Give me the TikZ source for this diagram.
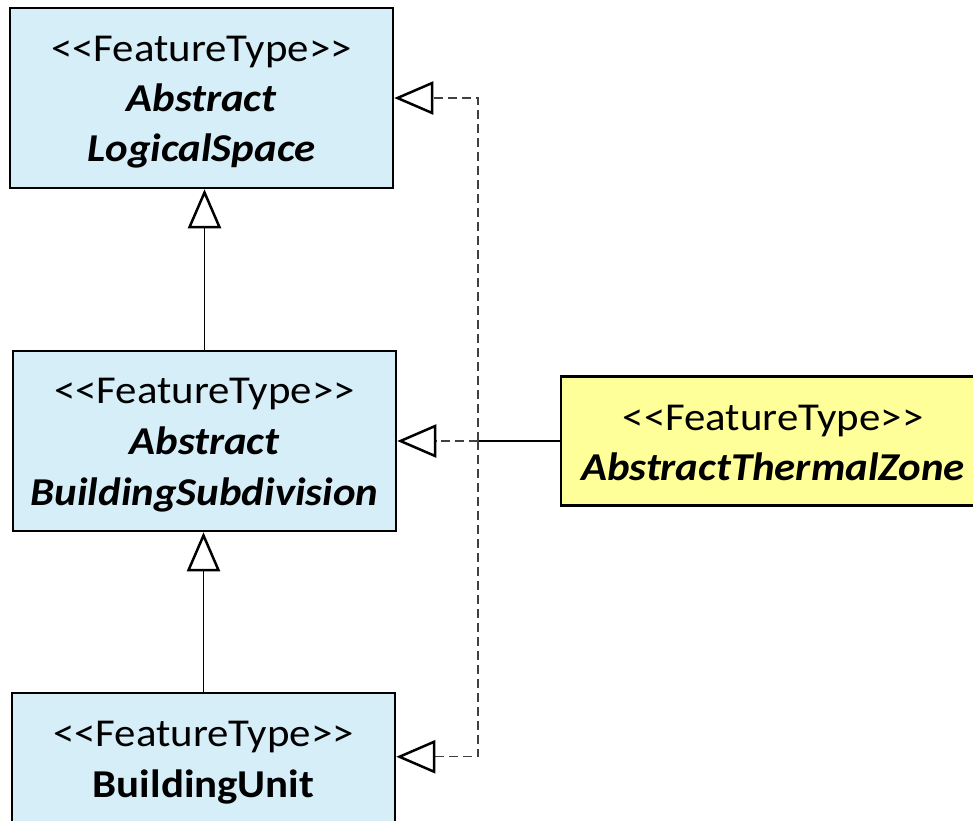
\documentclass[tikz,border=0pt]{standalone}
\usepackage{fontspec}
\setmainfont{Carlito}[FakeStretch=1.085]
\usetikzlibrary{arrows.meta}
\definecolor{classblue}{RGB}{213,238,247}
\definecolor{classyellow}{RGB}{255,255,153}
\newcommand\stereo{<\kern0pt<FeatureType>\kern0pt>}

\begin{document}
\begin{tikzpicture}[x=1pt,y=-1pt,
  classbox/.style={draw=black, line width=2.5pt, inner sep=0pt,
    minimum width=383pt, minimum height=180pt, fill=classblue},
  txt/.style={anchor=base, inner sep=0pt, font=\fontsize{39.5}{46}\selectfont},
  bname/.style={txt, font=\fontsize{39.5}{46}\selectfont\bfseries},
  biname/.style={txt, font=\fontsize{39.5}{46}\selectfont\bfseries\itshape},
  gen/.style={line width=1.3pt,
    -{Triangle[open,length=39pt,width=33pt,line width=2.5pt,color=black]}},
  real/.style={gen, draw=black!75, dash pattern=on 9pt off 5pt},
]
\useasboundingbox (0,0) rectangle (973,820);
\clip (0,0) rectangle (973,820);

% class boxes
\node[classbox] (ls) at (201.5,98) {};
\node[classbox] (bs) at (204.5,441) {};
\node[classbox] (bu) at (203.5,783) {};
\node[classbox, fill=classyellow, minimum width=424pt, minimum height=129pt] (tz) at (773,441) {};

% class texts
\node[txt]    (ls-st) at (201.5,61.5) {\stereo};
\node[biname] (ls-n1) at (201.5,111.5) {Abstract};
\node[biname] (ls-n2) at (201.5,161.5) {LogicalSpace};

\node[txt]    (bs-st) at (204.5,403) {\stereo};
\node[biname] (bs-n1) at (204.5,454) {Abstract};
\node[biname] (bs-n2) at (204.5,505) {BuildingSubdivision};

\node[txt]    (bu-st) at (203.5,746) {\stereo};
\node[bname]  (bu-n1) at (203.5,797) {BuildingUnit};

\node[txt]    (tz-st) at (773,430.5) {\stereo};
\node[biname] (tz-n1) at (773,480) {AbstractThermalZone};

% generalizations
\draw[gen] (bs.north) -- (bs.north |- ls.south);
\draw[gen] (bu.north) -- (bu.north |- bs.south);

% realizations from the thermal zone
\coordinate (j) at (478,441);
\path (bu.north east) ++(0,65) coordinate (bu-in);
\draw[line width=1.3pt] (tz.west) -- (j);
\draw[real] (j) -- (bs.east);
\draw[real] (j) |- (ls.east);
\draw[real] (j) |- (bu-in);
\end{tikzpicture}
\end{document}
